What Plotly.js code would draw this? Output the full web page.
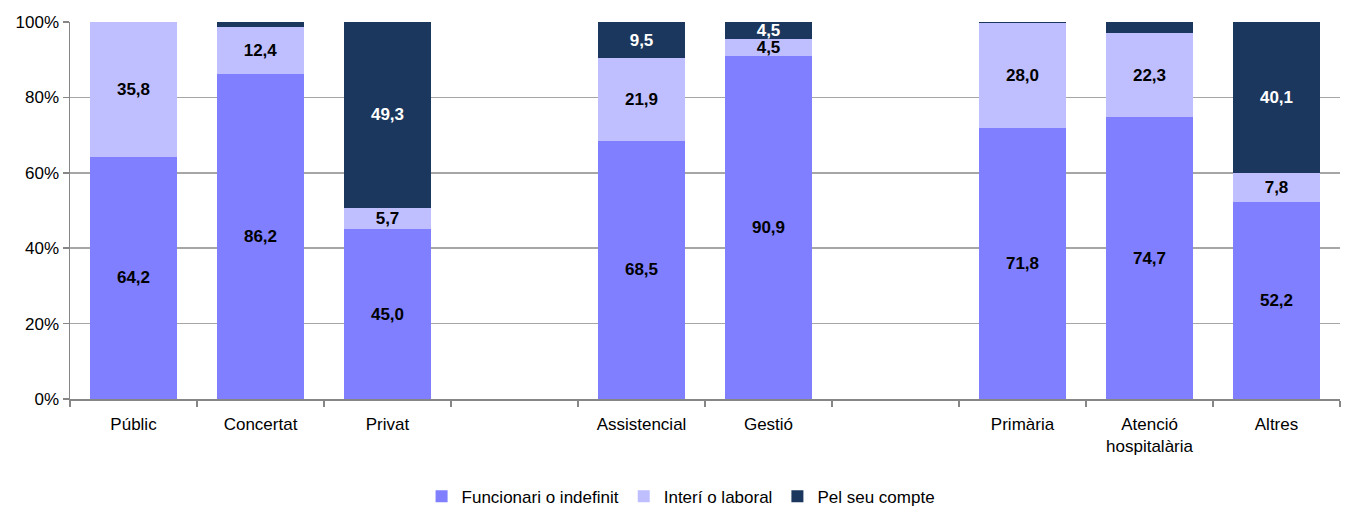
<!DOCTYPE html>
<html>
<head>
<meta charset="utf-8">
<script src="https://cdn.plot.ly/plotly-3.0.1.min.js"></script>
<style>html,body{margin:0;padding:0;background:#fff;}#chart{width:1346px;height:508px;}</style>
</head>
<body>
<div id="chart"></div>
<script>
const categories = ["Públic", "Concertat", "Privat", " ", "Assistencial", "Gestió", "  ", "Primària", "Atenció<br>hospitalària", "Altres"];
const funcionari = [64.2, 86.2, 45.0, null, 68.5, 90.9, null, 71.8, 74.7, 52.2];
const interi = [35.8, 12.4, 5.7, null, 21.9, 4.5, null, 28.0, 22.3, 7.8];
const pelSeuCompte = [0.0, 1.4, 49.3, null, 9.5, 4.5, null, 0.2, 3.0, 40.1];
const seriesNames = ["Funcionari o indefinit", "Interí o laboral", "Pel seu compte"];
const yTicks = [0, 20, 40, 60, 80, 100];

const FONT = "'Liberation Sans', Arial, sans-serif";
const colors = ["#7f7fff", "#bfbfff", "#1b375d"];
const textColors = ["#000000", "#000000", "#ffffff"];

function labels(arr) {
  return arr.map(v => (v !== null && v >= 4) ? v.toFixed(1).replace('.', ',') : '');
}

const data = [funcionari, interi, pelSeuCompte].map((vals, i) => ({
  type: 'bar',
  name: seriesNames[i],
  x: categories,
  y: vals,
  marker: { color: colors[i], line: { width: 0 } },
  text: labels(vals),
  texttemplate: '%{text}',
  textposition: 'inside',
  insidetextanchor: 'middle',
  textangle: 0,
  constraintext: 'none',
  insidetextfont: { family: FONT, size: 17, color: textColors[i], weight: 'bold' },
  hoverinfo: 'none'
}));

const layout = {
  width: 1346,
  height: 508,
  barmode: 'stack',
  bargap: 0.31,
  margin: { l: 70, r: 6, t: 22, b: 109, autoexpand: false },
  paper_bgcolor: '#ffffff',
  plot_bgcolor: '#ffffff',
  font: { family: FONT, size: 17, color: '#000000' },
  showlegend: true,
  legend: {
    orientation: 'h',
    xref: 'container', yref: 'container',
    x: 0.506, xanchor: 'center',
    y: 0.022, yanchor: 'middle',
    font: { family: FONT, size: 17, color: '#000000' },
    traceorder: 'normal',
    itemwidth: 30,
    tracegroupgap: 0
  },
  xaxis: {
    type: 'category',
    categoryorder: 'array',
    categoryarray: categories,
    tickson: 'boundaries',
    ticks: 'outside',
    ticklen: 6,
    tickcolor: '#868686',
    tickwidth: 1.5,
    ticklabelstandoff: 9,
    showline: true,
    linecolor: '#868686',
    linewidth: 1.5,
    showgrid: false,
    tickfont: { family: FONT, size: 17, color: '#000000' },
    fixedrange: true
  },
  yaxis: {
    range: [0, 100],
    tickvals: yTicks,
    ticktext: yTicks.map(v => v + '%'),
    ticks: 'outside',
    ticklen: 6,
    tickcolor: '#868686',
    tickwidth: 1.5,
    showline: true,
    linecolor: '#868686',
    linewidth: 1.5,
    showgrid: true,
    gridcolor: '#a6a6a6',
    gridwidth: 1.5,
    zeroline: false,
    tickfont: { family: FONT, size: 17, color: '#000000' },
    fixedrange: true
  }
};

Plotly.newPlot('chart', data, layout, { displayModeBar: false, staticPlot: true });
</script>
</body>
</html>
